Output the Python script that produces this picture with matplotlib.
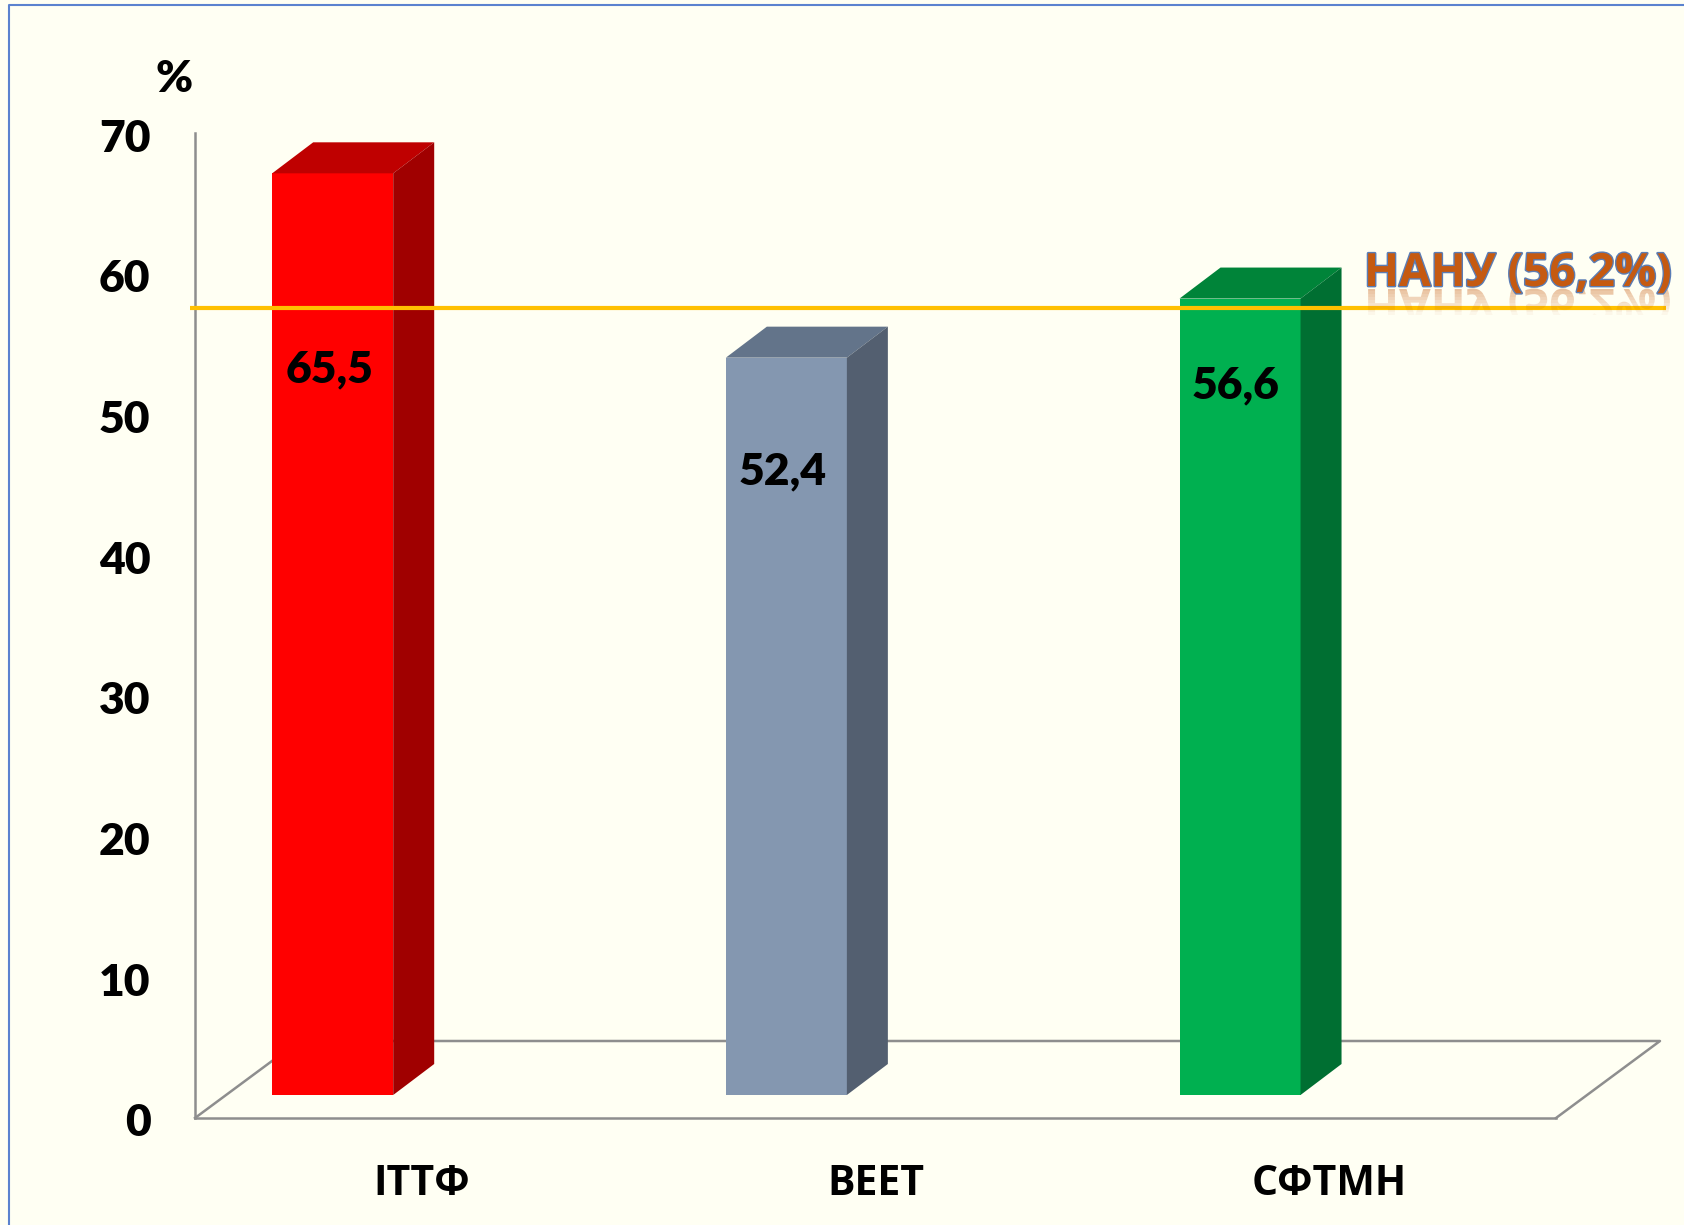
import matplotlib
matplotlib.use("Agg")
import matplotlib.pyplot as plt
import matplotlib.patheffects as pe
from matplotlib.font_manager import FontProperties
from matplotlib.patches import PathPatch, Polygon, Rectangle
from matplotlib.textpath import TextPath
from matplotlib.transforms import Affine2D, IdentityTransform, ScaledTranslation

# data
categories = ["ІТТФ", "ВЕЕТ", "СФТМН"]
values = [65.5, 52.4, 56.6]
value_labels = ["65,5", "52,4", "56,6"]
y_ticks = [0, 10, 20, 30, 40, 50, 60, 70]
nanu_value = 56.2
nanu_label = "НАНУ (56,2%)"

# look
front_colors = ["#FF0000", "#8497B0", "#00B050"]
top_colors = ["#BF0000", "#63748A", "#008439"]
side_colors = ["#A00000", "#535F70", "#006F32"]
BG = "#FFFFF3"
GRAY = "#8E8E8E"
FONT = ["Lato", "Open Sans", "DejaVu Sans"]
CYR_FONT = ["Open Sans", "DejaVu Sans"]

W, H = 1684, 1225
plt.rcParams["font.family"] = FONT
plt.rcParams["font.weight"] = "bold"

fig = plt.figure(figsize=(W / 100, H / 100), dpi=100, facecolor=BG)
ax = fig.add_axes([195 / W, (H - 1118) / H, 1361 / W, 985 / H], facecolor="none")
ax.set_xlim(0, 3)
ax.set_ylim(0, 70)

# depth of the fake 3d, in data units
px_x = 3 / 1361
px_y = 70 / 985
dx, dy = 41 * px_x, 31 * px_y
base = 23 * px_y
bar_left = 77.2 * px_x
bar_w = 121 * px_x

# floor
floor_x, floor_y = 104 * px_x, 77 * px_y
ax.plot([0, floor_x, 3 + floor_x, 3], [0, floor_y, floor_y, 0], color=GRAY, lw=1.8,
        clip_on=False, zorder=1)

for i, v in enumerate(values):
    x0 = i + bar_left
    x1 = x0 + bar_w
    top = base + v
    ax.bar(x0, v, width=bar_w, bottom=base, align="edge", color=front_colors[i], zorder=3)
    ax.add_patch(Polygon([(x0, top), (x0 + dx, top + dy), (x1 + dx, top + dy), (x1, top)],
                         color=top_colors[i], lw=0, zorder=3, clip_on=False))
    ax.add_patch(Polygon([(x1, base), (x1 + dx, base + dy), (x1 + dx, top + dy), (x1, top)],
                         color=side_colors[i], lw=0, zorder=3, clip_on=False))

# reference line
ax.plot([-5 * px_x, 1471 * px_x], [nanu_value + 1.36] * 2, color="#FFC000", lw=3,
        solid_capstyle="butt", clip_on=False, zorder=4)

# value labels, hand placed like in the original slide
label_px = [(330, 369), (783, 471), (1236, 385)]
for (lx, ly), s in zip(label_px, value_labels):
    fig.text(lx / W, (H - ly) / H, s, fontsize=32, fontweight="heavy", ha="center", va="center",
             color="black", zorder=5)

ax.set_yticks(y_ticks)
ax.set_xticks([0.5, 1.5, 2.5])
ax.set_xticklabels(categories, family=CYR_FONT, fontsize=29.5, fontweight="bold")
ax.tick_params(axis="y", length=0, pad=32, labelsize=32)
ax.tick_params(axis="x", length=0, pad=33)
shift = ScaledTranslation(0, -2 / 100, fig.dpi_scale_trans)
for lab in ax.get_yticklabels():
    lab.set_fontweight("heavy")
    lab.set_transform(lab.get_transform() + shift)
for name in ["top", "right"]:
    ax.spines[name].set_visible(False)
for name in ["left", "bottom"]:
    ax.spines[name].set_color(GRAY)
    ax.spines[name].set_linewidth(1.8)

fig.text(174 / W, (H - 79) / H, "%", fontsize=32, fontweight="heavy", ha="center", va="center")

# НАНУ label with outline and a small fading reflection
nx, ny = 1364, 286
fp = FontProperties(family=CYR_FONT, weight="bold", size=33)
fig.text(nx / W, (H - ny) / H, nanu_label, fontproperties=fp, color="#C55A11", va="baseline",
         path_effects=[pe.withStroke(linewidth=2, foreground="#5B7DB5")], zorder=6)
tp = TextPath((0, 0), nanu_label, prop=fp)
flip = Affine2D().scale(100 / 72, -100 / 72).translate(nx, H - ny - 3)
for k in range(9):
    band_top = H - ny - 2 - k * 3
    clip = Rectangle((0, band_top - 3), W, 3, transform=IdentityTransform())
    patch = PathPatch(tp, transform=flip, fc="#C55A11", ec="none", alpha=0.38 * (1 - k / 9), zorder=2)
    fig.add_artist(patch)
    patch.set_clip_path(clip)

# slide frame
fig.add_artist(plt.Line2D([9 / W, 9 / W, 1], [0, (H - 5) / H, (H - 5) / H], color="#5B82CF", lw=1.5))

fig.savefig("out.png", dpi=100, facecolor=BG)
